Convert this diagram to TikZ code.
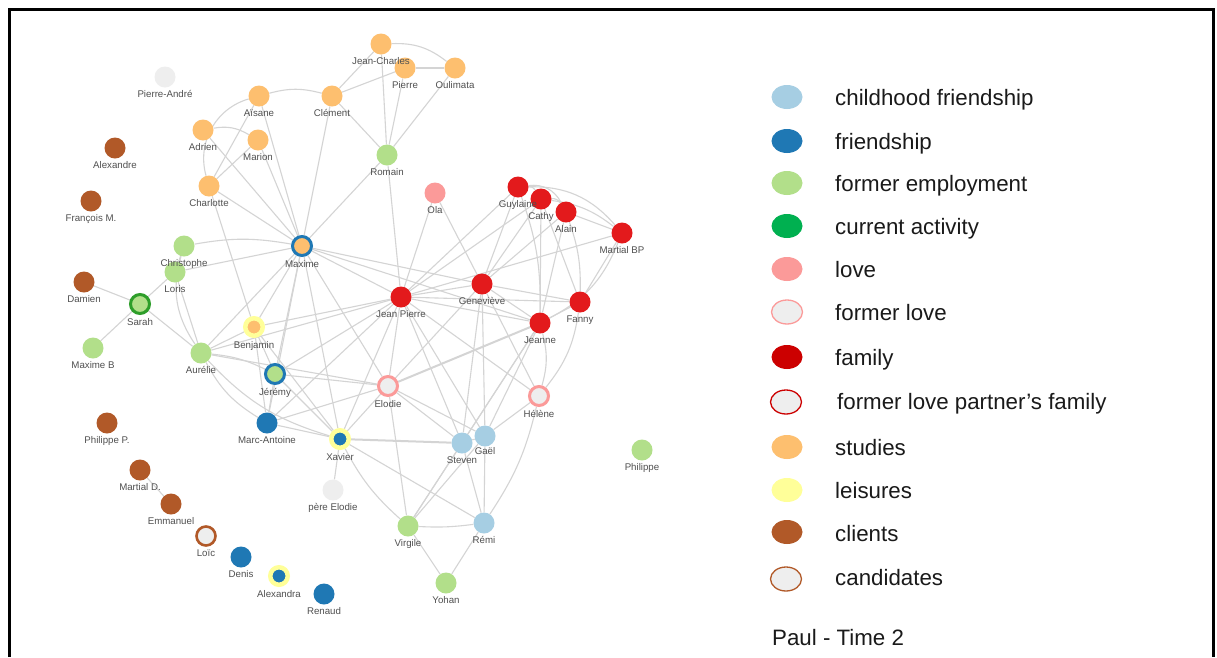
\documentclass[tikz,border=0pt]{standalone}
\usepackage{fontspec}
\setmainfont{Liberation Sans}
\usetikzlibrary{shapes.geometric}
\definecolor{cchild}{HTML}{A6CEE3}
\definecolor{cfriend}{HTML}{1F78B4}
\definecolor{cfe}{HTML}{B2DF8A}
\definecolor{ccur}{HTML}{00B050}
\definecolor{ccurring}{HTML}{2E9E2A}
\definecolor{clove}{HTML}{FB9A99}
\definecolor{cgreyf}{HTML}{EEEEEE}
\definecolor{cfam}{HTML}{E31A1C}
\definecolor{cfamleg}{HTML}{CC0000}
\definecolor{cstud}{HTML}{FDBF6F}
\definecolor{cleis}{HTML}{FFFF99}
\definecolor{cclient}{HTML}{B15928}
\definecolor{cedge}{HTML}{D4D4D4}
\definecolor{clab}{HTML}{505050}
\definecolor{ctxt}{HTML}{1A1A1A}
\pgfdeclarelayer{bg}
\pgfsetlayers{bg,main}
\tikzset{
  nd/.style={circle, inner sep=0pt, minimum size=21pt, draw=none},
  ring/.style={circle, inner sep=0pt, minimum size=19pt, line width=3pt},
  lring/.style={circle, inner sep=0pt, minimum size=17.5pt, line width=4.5pt, draw=cleis},
  lab/.style={font=\fontsize{9.7}{10}\selectfont, text=clab, inner sep=2.8pt},
  toplab/.style={lab, anchor=north},
  ed/.style={draw=cedge, line width=1.1pt},
  edd/.style={draw=cedge, line width=2pt},
  legm/.style={ellipse, inner sep=0pt, minimum width=31pt, minimum height=24pt},
  legt/.style={anchor=base west, font=\fontsize{22.3}{24}\selectfont, text=ctxt, inner sep=0pt},
}
\begin{document}
\begin{tikzpicture}[x=1pt,y=-1pt]
\useasboundingbox (0,0) rectangle (1217,657);
\draw[line width=3pt, black] (9,657) -- (9,9.5) -- (1213,9.5) -- (1213,657);

% ---- nodes ----
\node[nd,fill=cgreyf,label={[lab]below:Pierre-André}] (pierreandre) at (165,77) {};
\node[nd,fill=cclient,label={[lab]below:Alexandre}] (alexandre) at (115,148) {};
\node[nd,fill=cclient,label={[lab]below:François M.}] (francois) at (91,201) {};
\node[nd,fill=cstud,label={[lab]below:Aïsane}] (aisane) at (259,96) {};
\node[nd,fill=cstud,label={[lab]below:Clément}] (clement) at (332,96) {};
\node[nd,fill=cstud,label={[lab]below:Adrien}] (adrien) at (203,130) {};
\node[nd,fill=cstud,label={[lab]below:Marion}] (marion) at (258,140) {};
\node[nd,fill=cstud,label={[lab]below:Charlotte}] (charlotte) at (209,186) {};
\node[nd,fill=cstud] (jeancharles) at (381,44) {};
\node[nd,fill=cstud,label={[lab]below:Pierre}] (pierre) at (405,68) {};
\node[nd,fill=cstud,label={[lab]below:Oulimata}] (oulimata) at (455,68) {};
\node[nd,fill=cfe,label={[lab]below:Romain}] (romain) at (387,155) {};
\node[nd,fill=clove,label={[lab]below:Ola}] (ola) at (435,193) {};
\node[nd,fill=cfam] (guylaine) at (518,187) {};
\node[nd,fill=cfam,label={[lab]below:Cathy}] (cathy) at (541,199) {};
\node[nd,fill=cfam,label={[lab]below:Alain}] (alain) at (566,212) {};
\node[nd,fill=cfam,label={[lab]below:Martial BP}] (martialbp) at (622,233) {};
\node[nd,fill=cfe] (christophe) at (184,246) {};
\node[nd,fill=cfe,label={[lab]below:Loris}] (loris) at (175,272) {};
\node[ring,draw=cfriend,fill=cstud,label={[lab]below:Maxime}] (maxime) at (302,246) {};
\node[nd,fill=cclient,label={[lab]below:Damien}] (damien) at (84,282) {};
\node[ring,draw=ccurring,fill=cfe,label={[lab]below:Sarah}] (sarah) at (140,304) {};
\node[nd,fill=cfe,label={[lab]below:Maxime B}] (maximeb) at (93,348) {};
\node[lring,fill=cstud,label={[lab]below:Benjamin}] (benjamin) at (254,327) {};
\node[nd,fill=cfe,label={[lab]below:Aurélie}] (aurelie) at (201,353) {};
\node[ring,draw=cfriend,fill=cfe,label={[lab]below:Jérémy}] (jeremy) at (275,374) {};
\node[nd,fill=cfriend,label={[lab]below:Marc-Antoine}] (marcantoine) at (267,423) {};
\node[lring,fill=cfriend,label={[lab]below:Xavier}] (xavier) at (340,439) {};
\node[nd,fill=cclient,label={[lab]below:Philippe P.}] (philippep) at (107,423) {};
\node[nd,fill=cfam,label={[lab]below:Jean Pierre}] (jeanpierre) at (401,297) {};
\node[nd,fill=cfam,label={[lab]below:Geneviève}] (genevieve) at (482,284) {};
\node[nd,fill=cfam,label={[lab]below:Fanny}] (fanny) at (580,302) {};
\node[nd,fill=cfam,label={[lab]below:Jeanne}] (jeanne) at (540,323) {};
\node[ring,draw=clove,fill=cgreyf,label={[lab]below:Elodie}] (elodie) at (388,386) {};
\node[ring,draw=clove,fill=cgreyf,label={[lab]below:Hélène}] (helene) at (539,396) {};
\node[nd,fill=cchild,label={[lab]below:Steven}] (steven) at (462,443) {};
\node[nd,fill=cchild,label={[lab,inner sep=1pt]below:Gaël}] (gael) at (485,436) {};
\node[nd,fill=cfe,label={[lab]below:Philippe}] (philippe) at (642,450) {};
\node[nd,fill=cclient,label={[lab]below:Martial D.}] (martiald) at (140,470) {};
\node[nd,fill=cclient,label={[lab]below:Emmanuel}] (emmanuel) at (171,504) {};
\node[nd,fill=cgreyf,label={[lab]below:père Elodie}] (pereelodie) at (333,490) {};
\node[nd,fill=cfe,label={[lab]below:Virgile}] (virgile) at (408,526) {};
\node[nd,fill=cchild,label={[lab]below:Rémi}] (remi) at (484,523) {};
\node[circle,inner sep=0pt,minimum size=19pt,line width=2.6pt,draw=cclient,fill=cgreyf,label={[lab]below:Loïc}] (loic) at (206,536) {};
\node[nd,fill=cfriend,label={[lab]below:Denis}] (denis) at (241,557) {};
\node[lring,fill=cfriend,label={[lab]below:Alexandra}] (alexandra) at (279,576) {};
\node[nd,fill=cfriend,label={[lab]below:Renaud}] (renaud) at (324,594) {};
\node[nd,fill=cfe,label={[lab]below:Yohan}] (yohan) at (446,583) {};
% labels that overlap neighbouring nodes, drawn on top
\node[toplab] (jclab) at (jeancharles.south) {Jean-Charles};
\node[toplab] (gulab) at (guylaine.south) {Guylaine};
\node[toplab] (chlab) at (christophe.south) {Christophe};

% ---- edges ----
\begin{pgfonlayer}{bg}
\fill[white] (0,0) rectangle (1217,657);
\draw[ed] (aisane) to[bend left=15] (clement);
\draw[ed] (adrien) to[bend left=20] (marion);
\draw[ed] (aisane) to[bend right=45] (charlotte);
\draw[ed] (charlotte) -- (aisane);
\draw[ed] (charlotte) -- (marion);
\draw[ed] (adrien) -- (maxime);
\draw[ed] (aisane) -- (maxime);
\draw[ed] (marion) -- (maxime);
\draw[ed] (charlotte) -- (maxime);
\draw[ed] (charlotte) -- (benjamin);
\draw[ed] (clement) -- (maxime);
\draw[ed] (clement) -- (jeancharles);
\draw[ed] (clement) -- (pierre);
\draw[ed] (clement) -- (romain);
\draw[ed] (jeancharles) -- (romain);
\draw[ed] (pierre) -- (romain);
\draw[ed] (oulimata) -- (romain);
\draw[ed] (jeancharles) to[bend left=20] (oulimata);
\draw[ed] (pierre) -- (oulimata);
\draw[ed] (romain) -- (maxime);
\draw[ed] (romain) -- (jeanpierre);
\draw[ed] (ola) -- (jeanpierre);
\draw[ed] (ola) -- (genevieve);
% family
\draw[ed] (guylaine) to[bend left=30] (cathy);
\draw[ed] (cathy) to[bend left=30] (alain);
\draw[ed] (guylaine) to[bend left=35] (alain);
\draw[ed] (guylaine) to[bend left=25] (martialbp);
\draw[ed] (cathy) to[bend left=15] (martialbp);
\draw[ed] (alain) -- (martialbp);
\draw[ed] (guylaine) -- (jeanpierre);
\draw[ed] (guylaine) -- (genevieve);
\draw[ed] (guylaine) to[bend left=10] (jeanne);
\draw[ed] (cathy) -- (jeanpierre);
\draw[ed] (cathy) -- (genevieve);
\draw[ed] (cathy) -- (jeanne);
\draw[ed] (cathy) -- (fanny);
\draw[ed] (alain) -- (genevieve);
\draw[ed] (alain) -- (jeanne);
\draw[ed] (alain) to[bend left=10] (fanny);
\draw[ed] (martialbp) -- (jeanpierre);
\draw[ed] (martialbp) -- (fanny);
\draw[ed] (martialbp) to[bend left=20] (jeanne);
\draw[ed] (jeanpierre) -- (genevieve);
\draw[ed] (jeanpierre) -- (fanny);
\draw[ed] (jeanpierre) -- (jeanne);
\draw[ed] (genevieve) -- (fanny);
\draw[ed] (genevieve) -- (jeanne);
\draw[ed] (jeanne) -- (fanny);
\draw[ed] (maxime) -- (jeanpierre);
\draw[ed] (maxime) -- (genevieve);
\draw[ed] (maxime) -- (jeanne);
% lower centre
\draw[ed] (jeanpierre) -- (elodie);
\draw[ed] (jeanpierre) -- (steven);
\draw[ed] (jeanpierre) -- (gael);
\draw[ed] (jeanpierre) -- (helene);
\draw[ed] (jeanpierre) -- (xavier);
\draw[ed] (jeanpierre) -- (marcantoine);
\draw[ed] (jeanpierre) -- (jeremy);
\draw[ed] (jeanpierre) -- (benjamin);
\draw[ed] (jeanpierre) -- (aurelie);
\draw[ed] (genevieve) -- (elodie);
\draw[ed] (genevieve) -- (steven);
\draw[ed] (genevieve) -- (gael);
\draw[ed] (genevieve) -- (helene);
\draw[edd] (jeanne) -- (elodie);
\draw[ed] (jeanne) -- (gael);
\draw[ed] (jeanne) -- (steven);
\draw[ed] (jeanne) to[bend left=15] (helene);
\draw[ed] (jeanne) -- (virgile);
\draw[ed] (fanny) to[bend left=15] (helene);
\draw[ed] (helene) -- (gael);
\draw[ed] (helene) to[bend left=10] (remi);
\draw[ed] (elodie) -- (xavier);
\draw[ed] (elodie) -- (steven);
\draw[ed] (elodie) -- (gael);
\draw[ed] (elodie) -- (virgile);
\draw[ed] (elodie) -- (jeremy);
\draw[ed] (elodie) -- (aurelie);
\draw[ed] (elodie) -- (marcantoine);
\draw[ed] (maxime) -- (elodie);
\draw[edd] (xavier) -- (steven);
\draw[ed] (xavier) -- (marcantoine);
\draw[ed] (xavier) -- (pereelodie);
\draw[ed] (xavier) to[bend right=10] (virgile);
\draw[ed] (xavier) -- (remi);
\draw[ed] (xavier) -- (jeremy);
\draw[ed] (xavier) -- (benjamin);
\draw[ed] (xavier) to[bend left=15] (aurelie);
\draw[ed] (maxime) -- (xavier);
\draw[ed] (steven) -- (gael);
\draw[ed] (steven) -- (virgile);
\draw[ed] (steven) -- (remi);
\draw[ed] (gael) -- (remi);
\draw[ed] (gael) -- (virgile);
\draw[ed] (virgile) to[bend right=5] (remi);
\draw[ed] (virgile) -- (yohan);
\draw[ed] (remi) -- (yohan);
\draw[ed] (martiald) -- (emmanuel);
% left
\draw[ed] (sarah) -- (damien);
\draw[ed] (sarah) -- (maximeb);
\draw[ed] (sarah) -- (aurelie);
\draw[ed] (sarah) -- (loris);
\draw[ed] (loris) -- (maxime);
\draw[ed] (christophe) to[bend left=10] (maxime);
\draw[ed] (christophe) to[bend right=25] (aurelie);
\draw[ed] (loris) -- (aurelie);
\draw[ed] (christophe) -- (loris);
\draw[ed] (aurelie) -- (benjamin);
\draw[ed] (aurelie) -- (maxime);
\draw[ed] (aurelie) to[bend left=10] (jeremy);
\draw[ed] (aurelie) to[bend right=15] (marcantoine);
\draw[ed] (benjamin) -- (maxime);
\draw[ed] (benjamin) -- (jeremy);
\draw[ed] (benjamin) -- (marcantoine);
\draw[ed] (jeremy) -- (maxime);
\draw[ed] (jeremy) -- (marcantoine);
\draw[ed] (marcantoine) -- (maxime);
\end{pgfonlayer}

% ---- legend ----
\node[legm,fill=cchild] (k1) at (787,97) {};
\node[legm,fill=cfriend] (k2) at (787,141) {};
\node[legm,fill=cfe] (k3) at (787,183) {};
\node[legm,fill=ccur] (k4) at (787,226) {};
\node[legm,fill=clove] (k5) at (787,269) {};
\node[legm,fill=cgreyf,draw=clove,line width=1.3pt] (k6) at (787,312) {};
\node[legm,fill=cfamleg] (k7) at (787,357) {};
\node[legm,fill=cgreyf,draw=cfamleg,line width=1.3pt] (k8) at (786,402) {};
\node[legm,fill=cstud] (k9) at (787,447) {};
\node[legm,fill=cleis] (k10) at (787,490) {};
\node[legm,fill=cclient] (k11) at (787,532) {};
\node[legm,fill=cgreyf,draw=cclient,line width=1.3pt] (k12) at (786,579) {};
\node[legt] (t1) at (835,105) {childhood friendship};
\node[legt] (t2) at (835,149) {friendship};
\node[legt] (t3) at (835,191) {former employment};
\node[legt] (t4) at (835,234) {current activity};
\node[legt] (t5) at (835,277) {love};
\node[legt] (t6) at (835,320) {former love};
\node[legt] (t7) at (835,365) {family};
\node[legt] (t8) at (837,409) {former love partner’s family};
\node[legt] (t9) at (835,455) {studies};
\node[legt] (t10) at (835,498) {leisures};
\node[legt] (t11) at (835,541) {clients};
\node[legt] (t12) at (835,585) {candidates};
\node[legt] (title) at (772,645) {Paul - Time 2};
\end{tikzpicture}
\end{document}
